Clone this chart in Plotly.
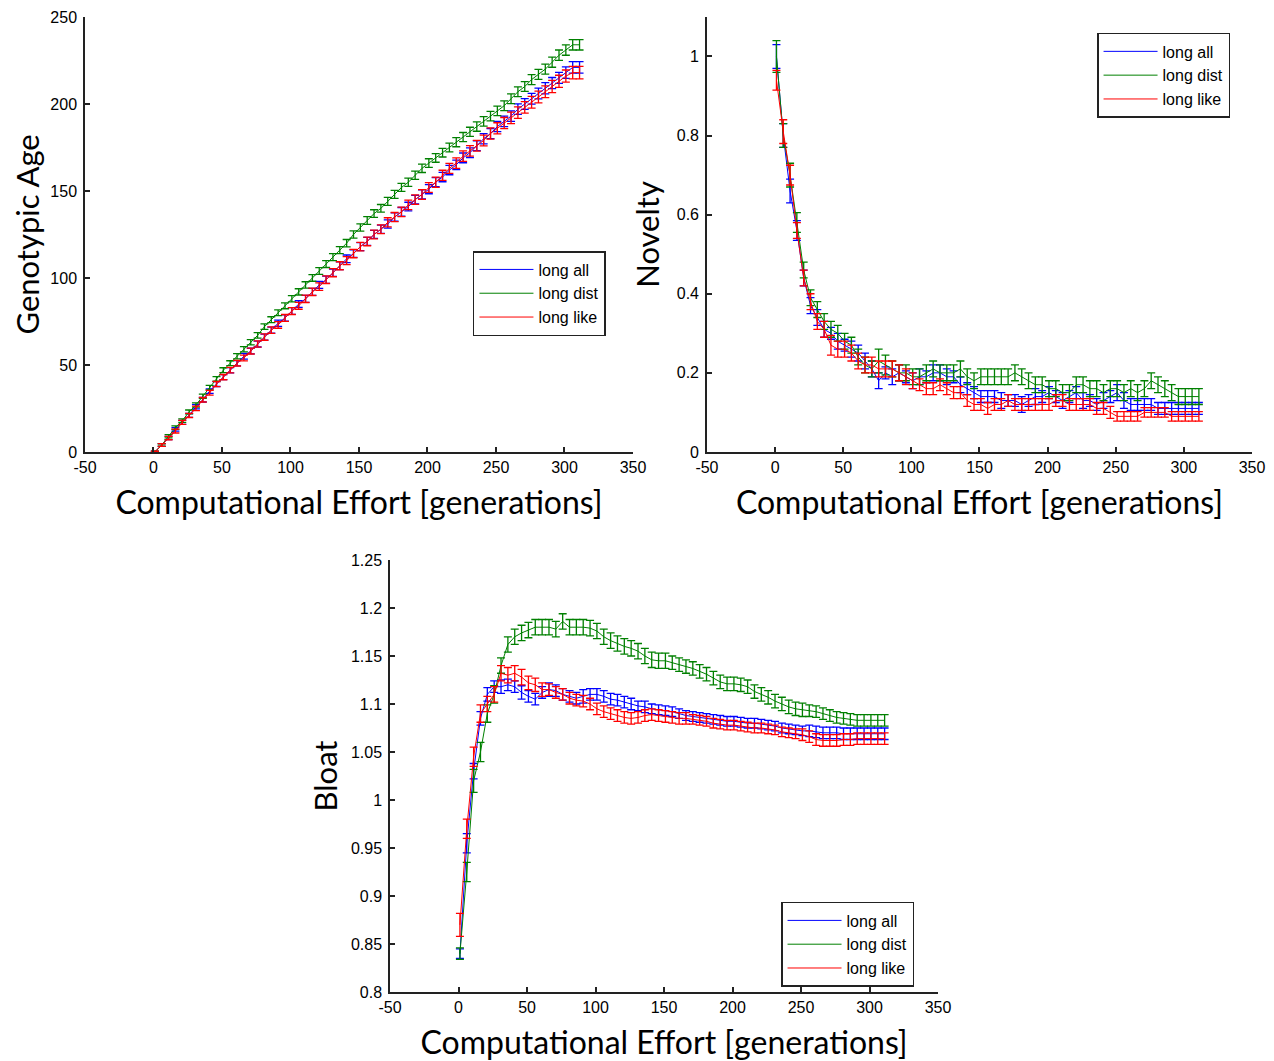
import plotly.graph_objects as go

# generations at which the runs were sampled
GENERATIONS = [1, 6, 11, 16, 21, 26, 31, 36, 41, 46,
               51, 56, 61, 66, 71, 76, 81, 86, 91, 96,
               101, 106, 111, 116, 121, 126, 131, 136, 141, 146,
               151, 156, 161, 166, 171, 176, 181, 186, 191, 196,
               201, 206, 211, 216, 221, 226, 231, 236, 241, 246,
               251, 256, 261, 266, 271, 276, 281, 286, 291, 296,
               301, 306, 311]

SERIES_NAMES = ['long all', 'long dist', 'long like']
SERIES_COLORS = ['rgb(0,0,255)', 'rgb(0,128,0)', 'rgb(255,0,0)']

X_TICKS = [-50, 0, 50, 100, 150, 200, 250, 300, 350]
X_TICK_TEXT = ['-50', '0', '50', '100', '150', '200', '250', '300', '350']

# genotypic age
age_all = [0, 4, 8, 13, 17, 21, 26, 30, 35, 39,
           43, 47, 51, 55, 58, 62, 66, 70, 74, 77,
           81, 85, 88, 92, 96, 99, 103, 107, 111, 114,
           118, 121, 125, 128, 131, 135, 138, 141, 145, 148,
           151, 155, 158, 162, 165, 169, 172, 176, 180, 183,
           187, 190, 193, 197, 200, 203, 206, 209, 212, 215,
           218, 221, 221]
age_dist = [0, 4, 9, 14, 18, 23, 27, 32, 37, 42,
            47, 51, 55, 59, 63, 67, 72, 76, 80, 84,
            88, 92, 96, 100, 104, 108, 112, 116, 120, 125,
            129, 133, 137, 140, 144, 148, 152, 155, 159, 163,
            166, 169, 172, 175, 178, 181, 184, 187, 190, 193,
            196, 199, 203, 207, 210, 214, 217, 220, 224, 228,
            231, 234, 234]
age_like = [0, 4, 8, 12, 17, 21, 25, 30, 34, 39,
            43, 47, 51, 54, 58, 62, 66, 70, 73, 77,
            81, 84, 88, 92, 95, 99, 103, 107, 110, 114,
            118, 121, 125, 128, 132, 135, 138, 142, 145, 148,
            152, 155, 159, 163, 166, 170, 173, 176, 179, 183,
            186, 189, 192, 195, 198, 201, 204, 207, 210, 213,
            216, 218, 218]
age_all_err = [0.4, 0.8, 0.9, 1.0, 1.1, 1.1, 1.2, 1.3, 1.3, 1.4,
               1.4, 1.5, 1.5, 1.6, 1.6, 1.7, 1.7, 1.7, 1.8, 1.8,
               1.9, 1.9, 2.0, 2.0, 2.0, 2.1, 2.1, 2.2, 2.2, 2.2,
               2.3, 2.3, 2.3, 2.4, 2.4, 2.4, 2.5, 2.5, 2.5, 2.6,
               2.6, 2.6, 2.7, 2.7, 2.7, 2.8, 2.8, 2.8, 2.9, 2.9,
               2.9, 3.0, 3.0, 3.0, 3.1, 3.1, 3.1, 3.2, 3.2, 3.2,
               3.3, 3.3, 3.3]
age_dist_err = [0.4, 0.7, 0.9, 1.0, 1.0, 1.1, 1.2, 1.2, 1.3, 1.3,
                1.4, 1.4, 1.5, 1.5, 1.5, 1.6, 1.6, 1.7, 1.7, 1.7,
                1.8, 1.8, 1.8, 1.9, 1.9, 2.0, 2.0, 2.0, 2.1, 2.1,
                2.1, 2.2, 2.2, 2.2, 2.3, 2.3, 2.3, 2.4, 2.4, 2.4,
                2.5, 2.5, 2.5, 2.5, 2.6, 2.6, 2.6, 2.7, 2.7, 2.7,
                2.7, 2.8, 2.8, 2.8, 2.8, 2.9, 2.9, 2.9, 2.9, 3.0,
                3.0, 3.0, 3.0]
age_like_err = [0.4, 0.8, 1.0, 1.1, 1.1, 1.2, 1.3, 1.3, 1.4, 1.5,
                1.5, 1.6, 1.6, 1.7, 1.7, 1.8, 1.8, 1.9, 1.9, 2.0,
                2.0, 2.0, 2.1, 2.1, 2.2, 2.2, 2.3, 2.3, 2.3, 2.4,
                2.4, 2.5, 2.5, 2.5, 2.6, 2.6, 2.7, 2.7, 2.7, 2.8,
                2.8, 2.9, 2.9, 2.9, 3.0, 3.0, 3.0, 3.1, 3.1, 3.2,
                3.2, 3.2, 3.3, 3.3, 3.3, 3.4, 3.4, 3.4, 3.5, 3.5,
                3.5, 3.6, 3.6]

# novelty
nov_all = [1.0, 0.80, 0.66, 0.56, 0.44, 0.37, 0.34, 0.31, 0.30, 0.28,
           0.27, 0.26, 0.25, 0.23, 0.21, 0.18, 0.20, 0.19, 0.20, 0.19,
           0.18, 0.19, 0.19, 0.20, 0.20, 0.19, 0.19, 0.17, 0.16, 0.15,
           0.14, 0.14, 0.14, 0.13, 0.13, 0.13, 0.12, 0.13, 0.14, 0.14,
           0.15, 0.14, 0.13, 0.14, 0.15, 0.13, 0.13, 0.12, 0.13, 0.14,
           0.15, 0.13, 0.12, 0.12, 0.12, 0.12, 0.11, 0.11, 0.11, 0.11,
           0.11, 0.11, 0.11]
nov_dist = [1.0, 0.80, 0.70, 0.58, 0.46, 0.39, 0.36, 0.33, 0.31, 0.30,
            0.28, 0.27, 0.24, 0.22, 0.21, 0.23, 0.22, 0.21, 0.20, 0.20,
            0.19, 0.19, 0.20, 0.21, 0.20, 0.20, 0.20, 0.21, 0.19, 0.18,
            0.19, 0.19, 0.19, 0.19, 0.19, 0.20, 0.19, 0.18, 0.17, 0.17,
            0.16, 0.16, 0.15, 0.15, 0.17, 0.17, 0.16, 0.16, 0.15, 0.16,
            0.16, 0.15, 0.16, 0.15, 0.16, 0.18, 0.17, 0.16, 0.15, 0.14,
            0.14, 0.14, 0.14]
nov_like = [0.94, 0.81, 0.70, 0.56, 0.44, 0.38, 0.33, 0.31, 0.27, 0.26,
            0.26, 0.25, 0.23, 0.22, 0.22, 0.21, 0.21, 0.21, 0.20, 0.19,
            0.18, 0.17, 0.16, 0.16, 0.17, 0.16, 0.15, 0.15, 0.13, 0.12,
            0.12, 0.11, 0.12, 0.12, 0.13, 0.12, 0.12, 0.12, 0.12, 0.12,
            0.12, 0.13, 0.13, 0.12, 0.12, 0.12, 0.12, 0.11, 0.11, 0.10,
            0.09, 0.09, 0.09, 0.09, 0.10, 0.10, 0.10, 0.10, 0.09, 0.09,
            0.09, 0.09, 0.09]
nov_all_err = [0.03, 0.03, 0.03, 0.025, 0.02, 0.02, 0.02, 0.02, 0.015, 0.02,
               0.015, 0.02, 0.02, 0.02, 0.02, 0.02, 0.015, 0.02, 0.02, 0.015,
               0.02, 0.02, 0.015, 0.02, 0.02, 0.02, 0.015, 0.02, 0.015, 0.015,
               0.015, 0.015, 0.015, 0.02, 0.015, 0.015, 0.02, 0.015, 0.02, 0.015,
               0.015, 0.015, 0.02, 0.015, 0.015, 0.02, 0.015, 0.015, 0.02, 0.015,
               0.02, 0.02, 0.015, 0.015, 0.015, 0.015, 0.015, 0.015, 0.015, 0.015,
               0.015, 0.015, 0.015]
nov_dist_err = [0.04, 0.03, 0.03, 0.025, 0.02, 0.02, 0.02, 0.02, 0.02, 0.02,
                0.02, 0.02, 0.02, 0.02, 0.02, 0.03, 0.025, 0.02, 0.02, 0.02,
                0.02, 0.02, 0.02, 0.02, 0.02, 0.02, 0.02, 0.02, 0.02, 0.02,
                0.02, 0.02, 0.02, 0.02, 0.02, 0.02, 0.02, 0.02, 0.02, 0.02,
                0.02, 0.02, 0.02, 0.02, 0.02, 0.02, 0.02, 0.02, 0.02, 0.02,
                0.02, 0.02, 0.02, 0.02, 0.02, 0.02, 0.02, 0.02, 0.02, 0.02,
                0.02, 0.02, 0.02]
nov_like_err = [0.025, 0.03, 0.025, 0.02, 0.02, 0.02, 0.02, 0.02, 0.025, 0.02,
                0.02, 0.02, 0.02, 0.02, 0.02, 0.02, 0.02, 0.02, 0.02, 0.02,
                0.02, 0.015, 0.015, 0.015, 0.015, 0.015, 0.015, 0.015, 0.015, 0.015,
                0.015, 0.015, 0.015, 0.015, 0.015, 0.015, 0.015, 0.015, 0.015, 0.015,
                0.015, 0.015, 0.015, 0.015, 0.015, 0.015, 0.015, 0.015, 0.015, 0.015,
                0.012, 0.012, 0.012, 0.012, 0.012, 0.012, 0.012, 0.012, 0.012, 0.012,
                0.012, 0.012, 0.012]

# bloat
bloat_all = [0.840, 0.955, 1.030, 1.085, 1.110, 1.118, 1.118, 1.120, 1.118, 1.112,
             1.108, 1.105, 1.112, 1.115, 1.114, 1.110, 1.108, 1.106, 1.108, 1.110,
             1.110, 1.108, 1.105, 1.104, 1.102, 1.100, 1.098, 1.097, 1.095, 1.094,
             1.093, 1.092, 1.090, 1.088, 1.087, 1.086, 1.085, 1.084, 1.083, 1.082,
             1.082, 1.081, 1.080, 1.080, 1.079, 1.078, 1.077, 1.075, 1.074, 1.073,
             1.072, 1.072, 1.071, 1.070, 1.070, 1.070, 1.069, 1.069, 1.069, 1.069,
             1.069, 1.069, 1.069]
bloat_dist = [0.840, 0.925, 1.020, 1.050, 1.090, 1.110, 1.140, 1.162, 1.170, 1.174,
              1.177, 1.180, 1.180, 1.180, 1.178, 1.186, 1.180, 1.180, 1.180, 1.179,
              1.176, 1.170, 1.166, 1.163, 1.160, 1.158, 1.155, 1.150, 1.146, 1.145,
              1.145, 1.143, 1.141, 1.139, 1.137, 1.134, 1.131, 1.127, 1.123, 1.121,
              1.121, 1.120, 1.118, 1.113, 1.110, 1.107, 1.103, 1.100, 1.097, 1.095,
              1.094, 1.093, 1.092, 1.090, 1.088, 1.086, 1.085, 1.084, 1.083, 1.083,
              1.083, 1.083, 1.083]
bloat_like = [0.870, 0.970, 1.045, 1.090, 1.100, 1.110, 1.132, 1.130, 1.132, 1.128,
              1.122, 1.120, 1.115, 1.115, 1.112, 1.110, 1.106, 1.104, 1.103, 1.100,
              1.095, 1.092, 1.090, 1.088, 1.086, 1.085, 1.086, 1.088, 1.089, 1.088,
              1.087, 1.086, 1.085, 1.085, 1.084, 1.083, 1.082, 1.080, 1.079, 1.078,
              1.078, 1.077, 1.076, 1.075, 1.075, 1.074, 1.073, 1.071, 1.070, 1.069,
              1.068, 1.066, 1.063, 1.062, 1.062, 1.062, 1.063, 1.063, 1.064, 1.064,
              1.064, 1.064, 1.064]
bloat_all_err = [0.005, 0.010, 0.008, 0.007, 0.007, 0.006, 0.007, 0.006, 0.006, 0.007,
                 0.006, 0.006, 0.006, 0.007, 0.006, 0.006, 0.006, 0.006, 0.007, 0.006,
                 0.006, 0.006, 0.006, 0.006, 0.006, 0.006, 0.005, 0.006, 0.005, 0.005,
                 0.005, 0.005, 0.005, 0.005, 0.005, 0.005, 0.005, 0.005, 0.005, 0.005,
                 0.005, 0.005, 0.005, 0.005, 0.005, 0.005, 0.005, 0.005, 0.005, 0.005,
                 0.005, 0.006, 0.006, 0.006, 0.006, 0.006, 0.006, 0.006, 0.006, 0.006,
                 0.006, 0.006, 0.006]
bloat_dist_err = [0.006, 0.010, 0.012, 0.010, 0.009, 0.009, 0.008, 0.008, 0.008, 0.008,
                  0.008, 0.008, 0.008, 0.008, 0.008, 0.008, 0.008, 0.008, 0.008, 0.008,
                  0.008, 0.008, 0.008, 0.008, 0.008, 0.008, 0.008, 0.008, 0.008, 0.008,
                  0.008, 0.007, 0.007, 0.007, 0.007, 0.007, 0.007, 0.007, 0.007, 0.007,
                  0.007, 0.007, 0.007, 0.007, 0.007, 0.007, 0.007, 0.007, 0.007, 0.007,
                  0.007, 0.006, 0.006, 0.006, 0.006, 0.006, 0.006, 0.006, 0.006, 0.006,
                  0.006, 0.006, 0.006]
bloat_like_err = [0.012, 0.010, 0.010, 0.009, 0.008, 0.008, 0.008, 0.008, 0.008, 0.008,
                  0.007, 0.007, 0.007, 0.006, 0.006, 0.006, 0.006, 0.006, 0.006, 0.006,
                  0.006, 0.006, 0.006, 0.006, 0.006, 0.006, 0.006, 0.006, 0.006, 0.006,
                  0.006, 0.006, 0.006, 0.006, 0.005, 0.005, 0.005, 0.005, 0.005, 0.005,
                  0.005, 0.005, 0.005, 0.005, 0.005, 0.005, 0.005, 0.005, 0.005, 0.005,
                  0.006, 0.006, 0.006, 0.006, 0.006, 0.006, 0.006, 0.006, 0.006, 0.006,
                  0.006, 0.006, 0.006]

PANELS = [
    ('x', 'y', 'legend', [age_all, age_dist, age_like],
     [age_all_err, age_dist_err, age_like_err]),
    ('x2', 'y2', 'legend2', [nov_all, nov_dist, nov_like],
     [nov_all_err, nov_dist_err, nov_like_err]),
    ('x3', 'y3', 'legend3', [bloat_all, bloat_dist, bloat_like],
     [bloat_all_err, bloat_dist_err, bloat_like_err]),
]

TICK_FONT = dict(family='Liberation Sans, Arial', size=16, color='black')
X_TITLE_FONT = dict(family='Lato, Open Sans, sans-serif', size=32, color='black')
Y_TITLE_FONT = dict(family='Lato, Open Sans, sans-serif', size=31, color='black')

fig = go.Figure()
for xa, ya, leg, values, errors in PANELS:
    for name, color, y, err in zip(SERIES_NAMES, SERIES_COLORS, values, errors):
        fig.add_trace(go.Scatter(
            x=GENERATIONS, y=y, name=name, mode='lines',
            line=dict(color=color, width=1),
            error_y=dict(type='data', array=err, visible=True, color=color,
                         thickness=1.3, width=4),
            xaxis=xa, yaxis=ya, legend=leg))


def axis_style(**kw):
    base = dict(showline=True, linecolor='#222', linewidth=1.5, mirror=False,
                ticks='inside', ticklen=5, tickcolor='#222', tickwidth=1.5,
                showgrid=False, zeroline=False, tickfont=TICK_FONT,
                automargin=False, ticklabeloverflow='allow')
    base.update(kw)
    return base


def x_axis(domain, anchor):
    return axis_style(domain=domain, anchor=anchor, range=[-50, 350],
                      tickvals=X_TICKS, ticktext=X_TICK_TEXT,
                      title=dict(text='Computational Effort [generations]',
                                 font=X_TITLE_FONT, standoff=17))


def y_title(text, standoff):
    return dict(text=text, font=Y_TITLE_FONT, standoff=standoff)


# the page body adds an 8px margin, so the figure sits 8px right/down
fig.update_layout(
    width=1258, height=1053,
    margin=dict(l=0, r=0, t=0, b=0),
    paper_bgcolor='white', plot_bgcolor='white',
    xaxis=x_axis([0.0612, 0.4968], 'y'),
    yaxis=axis_style(domain=[0.5784, 0.9915], anchor='x', range=[0, 250], dtick=50,
                     ticklabelstandoff=3, title=y_title('Genotypic Age', 19)),
    xaxis2=x_axis([0.5556, 0.9889], 'y2'),
    yaxis2=axis_style(domain=[0.5784, 0.9915], anchor='x2', range=[0, 1.1],
                      tickvals=[0, 0.2, 0.4, 0.6, 0.8, 1],
                      ticklabelstandoff=3, title=y_title('Novelty', 8)),
    xaxis3=x_axis([0.3037, 0.7393], 'y3'),
    yaxis3=axis_style(domain=[0.0655, 0.4758], anchor='x3', range=[0.8, 1.25], dtick=0.05,
                      ticklabelstandoff=3, title=y_title('Bloat', 4)),
)

legend_style = dict(xanchor='left', yanchor='top', bgcolor='white',
                    bordercolor='#222', borderwidth=1.5, itemwidth=54,
                    font=dict(family='Liberation Sans, Arial', size=16, color='black'))
fig.update_layout(
    legend=dict(x=0.3696, y=0.7692, **legend_style),
    legend2=dict(x=0.8657, y=0.9763, **legend_style),
    legend3=dict(x=0.6145, y=0.1510, **legend_style),
)

fig.write_html("out.html")
